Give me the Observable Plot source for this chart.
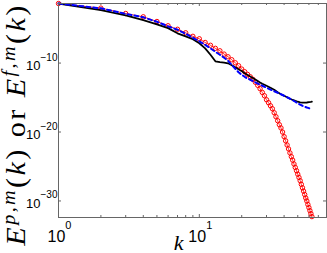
<!DOCTYPE html>
<html><head><meta charset="utf-8">
<script src="https://cdn.jsdelivr.net/npm/d3@7"></script>
<script src="https://cdn.jsdelivr.net/npm/@observablehq/plot@0.6"></script>
<style>html,body{margin:0;padding:0;background:#fff;overflow:hidden}svg{display:block}</style>
</head><body><div id="chart"></div>
<script>
// wavenumbers
const kRed = d3.range(1, 64);
const kLine = [1,2,3,4,5,6,7,8,9,10,11,12,13,14,15,16,17,18,19,20,21,22,23,24,25,26,27,28,29,30,32,34,36,38,40,42,44,46,48,50,52,54,56,58,60,62,63];
// log10 of the spectra
const redExp = [-1.36,-2.03,-2.81,-3.29,-3.97,-4.59,-5.10,-5.61,-6.12,-6.48,
  -7.01,-7.42,-7.86,-8.22,-8.70,-9.09,-9.52,-9.96,-10.39,-10.87,
  -11.26,-11.64,-11.99,-12.36,-12.78,-13.23,-13.72,-14.26,-14.74,-15.32,
  -15.75,-16.19,-16.62,-17.20,-17.78,-18.36,-18.94,-19.41,-20.01,-20.67,
  -21.28,-21.88,-22.45,-23.03,-23.57,-24.08,-24.64,-25.14,-25.61,-26.12,
  -26.59,-27.06,-27.59,-28.09,-28.58,-29.07,-29.57,-30.01,-30.51,-30.96,
  -31.41,-31.84,-32.27];
const blackExp = [-1.36,-2.32,-3.07,-3.77,-4.38,-4.93,-5.68,-6.12,-6.55,-7.13,
  -7.86,-8.80,-9.74,-9.86,-9.93,-10.03,-10.32,-10.61,-10.90,-11.14,
  -11.48,-11.72,-11.96,-12.17,-12.39,-12.59,-12.81,-13.00,-13.14,-13.29,
  -13.58,-13.87,-14.23,-14.52,-14.74,-14.96,-15.17,-15.35,-15.49,-15.61,
  -15.70,-15.75,-15.75,-15.72,-15.68,-15.64,-15.61];
const blueExp = [-1.36,-2.06,-2.86,-3.36,-4.01,-4.67,-5.17,-5.75,-6.33,-6.84,
  -7.35,-7.86,-8.36,-8.80,-9.23,-9.67,-10.25,-10.83,-11.33,-11.70,
  -11.99,-12.25,-12.42,-12.61,-12.81,-12.97,-13.14,-13.29,-13.43,-13.58,
  -13.84,-14.09,-14.30,-14.52,-14.74,-14.96,-15.17,-15.39,-15.61,-15.83,
  -16.04,-16.19,-16.33,-16.45,-16.54,-16.59,-16.62];
// ticks
const xMajor = [1, 10];
const xMajorLabels = ["0", "1"];
const xMinor = [2,3,4,5,6,7,8,9,20,30,40,50,60,70,80];
const yMajor = [1e-10, 1e-20, 1e-30];
const yMajorLabels = ["\u221210", "\u221220", "\u221230"];

const red = kRed.map((k, i) => ({k, E: Math.pow(10, redExp[i])}));
const black = kLine.map((k, i) => ({k, E: Math.pow(10, blackExp[i])}));
const blue = kLine.map((k, i) => ({k, E: Math.pow(10, blueExp[i])}));

const W = 327, H = 253, mL = 58, mR = 1, mT = 3, mB = 36;
const pw = W - mL - mR, ph = H - mT - mB;
const axisColor = "#666";
const sans = "Liberation Sans, Arial, Helvetica, sans-serif";
const serif = "Liberation Serif, Times New Roman, serif";

const chart = Plot.plot({
  width: W, height: H,
  marginLeft: mL, marginRight: mR, marginTop: mT, marginBottom: mB,
  style: {background: "white", overflow: "visible"},
  x: {type: "log", domain: [1, 80], axis: null},
  y: {type: "log", domain: [Math.pow(10, -32.4), Math.pow(10, -1.36)], axis: null},
  marks: [
    Plot.line(red, {x: "k", y: "E", stroke: "#ff0000", strokeWidth: 0.8}),
    Plot.dot(red, {x: "k", y: "E", r: 2.2, stroke: "#ff0000", strokeWidth: 1, fill: "none"}),
    Plot.line(black, {x: "k", y: "E", stroke: "black", strokeWidth: 1.8}),
    Plot.line(blue, {x: "k", y: "E", stroke: "#0000ff", strokeWidth: 2, strokeDasharray: "4,3"}),
    Plot.frame({stroke: axisColor, strokeWidth: 1}),
    Plot.tickX(xMajor, {x: d => d, stroke: axisColor, insetTop: ph - 3}),
    Plot.tickX(xMajor, {x: d => d, stroke: axisColor, insetBottom: ph - 3}),
    Plot.tickX(xMinor, {x: d => d, stroke: axisColor, insetTop: ph - 2}),
    Plot.tickX(xMinor, {x: d => d, stroke: axisColor, insetBottom: ph - 2}),
    Plot.tickY(yMajor, {y: d => d, stroke: axisColor, insetRight: pw - 3}),
    Plot.tickY(yMajor, {y: d => d, stroke: axisColor, insetLeft: pw - 3}),
    Plot.text(xMajor, {x: d => d, text: (d, i) => xMajorLabels[i], frameAnchor: "bottom", lineAnchor: "bottom",
      dx: 1, dy: 24, fontSize: 16, fontFamily: sans, fill: "black", className: "xtl"}),
    Plot.text(yMajor, {y: d => d, text: (d, i) => yMajorLabels[i], frameAnchor: "left", textAnchor: "end", lineAnchor: "bottom",
      dx: -1, dy: 7, fontSize: 13, fontFamily: sans, fill: "black", className: "ytl"}),
    Plot.text(["k"], {text: d => d, frameAnchor: "bottom", lineAnchor: "bottom", dx: -14, dy: 32,
      fontSize: 22, fontFamily: serif, fontStyle: "italic", fill: "black", className: "xlab"}),
    Plot.text(["E(k)"], {text: d => d, frameAnchor: "left", lineAnchor: "bottom", textAnchor: "middle", rotate: -90,
      dx: -34, dy: 14, fontSize: 27, fontFamily: serif, fill: "black", className: "ylab"})
  ]
});
document.getElementById("chart").appendChild(chart);

const NS = "http://www.w3.org/2000/svg";
function tspan(parent, txt, attrs) {
  const t = document.createElementNS(NS, "tspan");
  for (const [a, v] of Object.entries(attrs || {})) t.setAttribute(a, v);
  t.textContent = txt;
  parent.appendChild(t);
  return t;
}
function textsOf(cls) {
  const out = [];
  chart.querySelectorAll("." + cls).forEach(n => {
    if (n.tagName.toLowerCase() === "text") out.push(n);
    else n.querySelectorAll("text").forEach(t => out.push(t));
  });
  return out;
}
function superscript(cls, supSize, raise) {
  textsOf(cls).forEach(el => {
    const s = el.textContent;
    el.textContent = "";
    el.setAttribute("y", "0");
    tspan(el, "10");
    tspan(el, s, {"font-size": supSize, dy: -raise});
  });
}
superscript("xtl", 11, 12.5);
superscript("ytl", 10, 9.5);

// y-axis label with superscripts
const yl = textsOf("ylab")[0];
if (yl) {
  yl.textContent = "";
  yl.setAttribute("y", "0");
  const R = 10, S = 18;
  const parts = [
    ["E", {"font-style": "italic"}],
    ["p,m", {"font-style": "italic", "font-size": S, dy: -R}],
    ["(", {dy: R}],
    ["k", {"font-style": "italic"}],
    [") or ", {}],
    ["E", {"font-style": "italic"}],
    ["f,m", {"font-style": "italic", "font-size": S, dy: -R}],
    ["(", {dy: R}],
    ["k", {"font-style": "italic"}],
    [")", {}]
  ];
  parts.forEach(([t, a]) => tspan(yl, t, a));
  const target = 240;
  const len0 = yl.getComputedTextLength();
  let sc = 1;
  if (len0 > 0) {
    sc = Math.min(target / len0, 1.12);
    const n = yl.textContent.length;
    const ls = (target / sc - len0) / (n - 1);
    if (ls > 0) yl.setAttribute("letter-spacing", ls.toFixed(2));
  }
  const tr = yl.getAttribute("transform") || "";
  yl.setAttribute("transform", tr + ` scale(${sc.toFixed(3)},1)`);
}
</script>
</body></html>
